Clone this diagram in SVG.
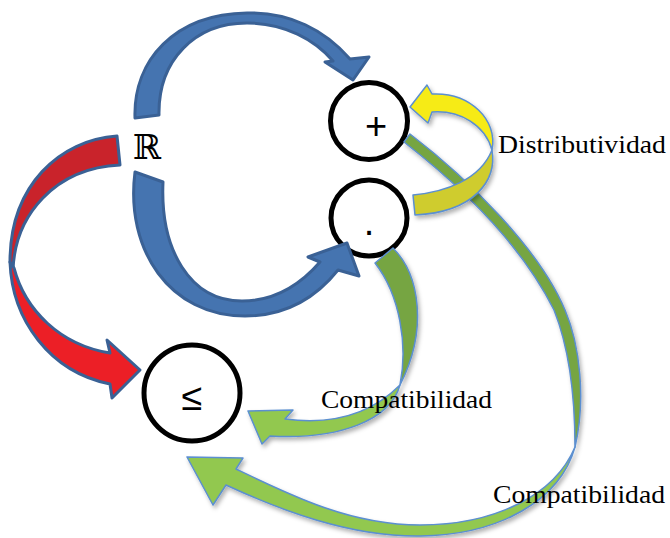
<svg xmlns="http://www.w3.org/2000/svg" width="670" height="538" viewBox="0 0 670 538">
<defs>
<filter id="sh" x="-20%" y="-20%" width="140%" height="140%">
<feDropShadow dx="2" dy="3" stdDeviation="2" flood-color="#000" flood-opacity="0.3"/>
</filter>
</defs>
<style>
.node circle{fill:#fff;stroke:#000;stroke-width:5}
.sym{font-family:"Liberation Sans","DejaVu Sans",sans-serif;fill:#000}
.blue{fill:#4574b0;stroke:#3a6195;stroke-width:3;stroke-linejoin:round}
.redA{fill:#c9232b;stroke:#3a6195;stroke-width:3;stroke-linejoin:round}
.redB{fill:#ec1f26;stroke:#3a6195;stroke-width:3;stroke-linejoin:round}
.ylA{fill:#f6eb15;stroke:#5b8fd0;stroke-width:1.5;stroke-linejoin:round}
.ylB{fill:#cfcc2e;stroke:#5b8fd0;stroke-width:1.5;stroke-linejoin:round}
.grA{fill:#76a543;stroke:#5b8fd0;stroke-width:1.5;stroke-linejoin:round}
.grB{fill:#92c850;stroke:#5b8fd0;stroke-width:1.5;stroke-linejoin:round}
.lbl{font-family:"Liberation Serif","DejaVu Serif",serif;font-size:25px;fill:#000}
</style>
<g id="node-plus" class="node"><circle cx="369" cy="121" r="38.5"/><text class="sym" x="376" y="139" font-size="38" text-anchor="middle">+</text></g>
<g id="node-dot" class="node"><circle cx="369" cy="218" r="38"/><text class="sym" x="369" y="235" font-size="38" text-anchor="middle">.</text></g>
<g id="node-leq" class="node"><circle cx="192" cy="393" r="48"/><text class="sym" x="192" y="410" font-size="38" text-anchor="middle">≤</text></g>
<g id="node-R"><text x="133" y="159" font-family="DejaVu Serif, serif" font-size="34" fill="#000">ℝ</text></g>
<g id="connectors">
<g id="edge-R-plus"><path class="blue" d="M135,118 C133,60 175,14 247,13 C290,12 325,30 350,59 L369,57 L353,80 L325,62 L333,61 C315,40 285,23 247,23 C195,23 158,60 159,115 Z"/></g>
<g id="edge-R-dot"><path class="blue" d="M135,172 C125,250 170,316 245,316 C290,316 318,295 338,270 L359,276 L347,243 L308,257 L320,262 C300,285 275,301 242,301 C190,301 160,250 163,182 Z"/></g>
<g id="edge-R-leq"><path class="redA" d="M117,136 C60,140 10,185 10,262 L13,270 C15,215 55,168 120,165 Z"/><path class="redB" d="M10,262 C12,320 50,372 110,384 L112,398 L140,370 L107,340 L110,353 C60,345 25,310 14,268 Z"/></g>
<g id="edge-plus-leq" filter="url(#sh)"><path class="grA" d="M410,134 C470,180 540,250 565,310 C580,345 586,400 575,447 C575,400 570,350 554,310 C524,250 472,195 404,142 Z"/><path class="grB" d="M575,447 C560,500 500,535 420,536 C350,537 280,510 226,485 L213,505 L187,457 L243,458 L236,469 C290,495 350,525 420,525 C495,525 555,495 575,447 Z"/></g>
<g id="edge-dot-plus" filter="url(#sh)"><path class="ylB" d="M413,195 C445,192 480,180 492,150 C497,180 475,212 415,215 Z"/><path class="ylA" d="M492,150 C498,120 470,92 432,94 L427,85 L410,107 L428,123 L432,112 C460,110 485,125 492,150 Z"/></g>
<g id="edge-dot-leq" filter="url(#sh)"><path class="grA" d="M375,263 L393,248 C420,275 428,330 400,385 C408,345 400,295 375,263 Z"/><path class="grB" d="M400,385 C390,420 340,440 270,436 L262,444 L248,411 L293,410 L285,419 C330,425 370,415 400,385 Z"/></g>
</g>
<g id="labels">
<text class="lbl" x="498" y="153" textLength="168" lengthAdjust="spacingAndGlyphs">Distributividad</text>
<text class="lbl" x="321" y="408" textLength="171" lengthAdjust="spacingAndGlyphs">Compatibilidad</text>
<text class="lbl" x="493" y="503" textLength="172" lengthAdjust="spacingAndGlyphs">Compatibilidad</text>
</g>
</svg>
